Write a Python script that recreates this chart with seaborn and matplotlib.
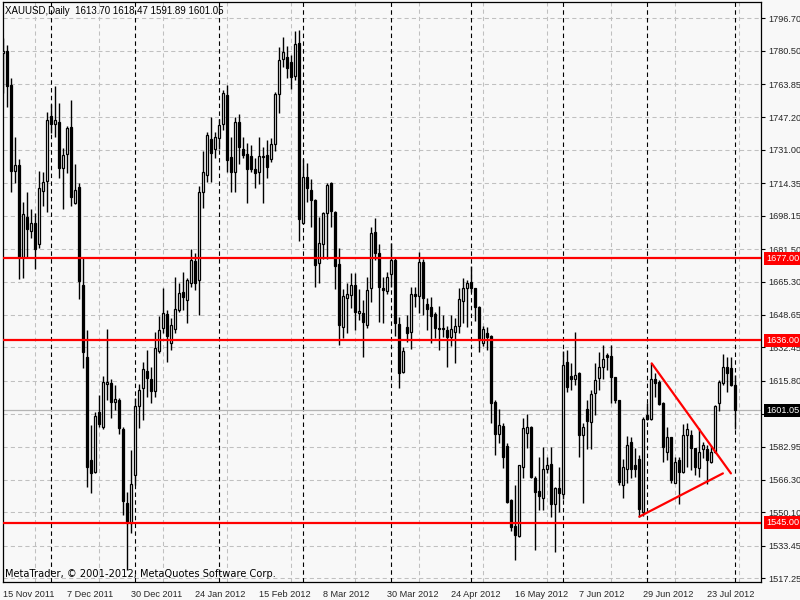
import numpy as np
import pandas as pd
import matplotlib
matplotlib.use("Agg")
import matplotlib.pyplot as plt
import matplotlib.transforms as mtransforms
import seaborn as sns

# Chart texts
title_text = "XAUUSD,Daily  1613.70 1618.47 1591.89 1601.05"
copyright_text = "MetaTrader, \u00a9 2001-2012, MetaQuotes Software Corp."

# Trading days of the daily bars (three holidays without a bar)
holidays = ["2011-12-26", "2012-01-02", "2012-04-06"]
dates = pd.bdate_range("2011-11-15", "2012-08-01")
dates = dates[~dates.isin(pd.to_datetime(holidays))]

# OHLC
opens = [
    1779.5, 1780.4, 1763.4, 1720.3, 1723.3, 1677.4, 1697.6, 1690.7, 1694.6, 1683.9,
    1710.7, 1715.4, 1747.8, 1744.1, 1744.8, 1721.9, 1728.8, 1742.3, 1704.4, 1712.5,
    1663.6, 1627.5, 1576.3, 1570.5, 1600.1, 1592.9, 1614.0, 1614.6, 1605.2, 1606.2,
    1591.6, 1554.7, 1545.0, 1568.8, 1603.2, 1612.1, 1620.7, 1616.7, 1610.7, 1630.8,
    1642.0, 1649.1, 1634.5, 1641.5, 1651.2, 1660.3, 1656.2, 1664.5, 1675.8, 1666.1,
    1710.2, 1718.5, 1736.5, 1731.3, 1736.8, 1743.8, 1758.3, 1727.7, 1719.9, 1744.8,
    1731.3, 1728.8, 1728.0, 1721.5, 1720.2, 1727.5, 1728.5, 1726.3, 1734.0, 1758.9,
    1776.2, 1777.2, 1775.1, 1767.9, 1784.5, 1694.4, 1717.7, 1711.0, 1706.0, 1674.4,
    1684.1, 1699.4, 1714.4, 1700.2, 1673.9, 1642.8, 1656.9, 1658.6, 1663.6, 1649.5,
    1649.5, 1643.6, 1661.9, 1690.2, 1679.4, 1662.0, 1660.8, 1669.1, 1676.1, 1644.0,
    1620.4, 1642.5, 1640.3, 1659.1, 1658.3, 1675.2, 1654.1, 1652.5, 1649.0, 1642.3,
    1642.2, 1641.1, 1637.8, 1640.3, 1643.1, 1655.8, 1662.3, 1665.3, 1661.9, 1652.8,
    1634.8, 1639.5, 1638.2, 1605.4, 1589.1, 1593.2, 1583.3, 1556.3, 1543.4, 1538.4,
    1573.0, 1589.9, 1592.6, 1567.1, 1560.8, 1557.5, 1571.6, 1574.1, 1554.3, 1562.2,
    1559.3, 1625.3, 1618.2, 1616.5, 1619.8, 1588.7, 1601.5, 1595.4, 1609.5, 1617.0,
    1622.5, 1628.6, 1628.2, 1617.5, 1606.2, 1563.8, 1571.6, 1585.4, 1573.8, 1576.6,
    1550.5, 1598.7, 1596.6, 1616.5, 1615.3, 1604.9, 1580.4, 1587.6, 1565.0, 1576.3,
    1570.4, 1588.7, 1588.7, 1582.1, 1572.1, 1581.6, 1581.6, 1575.4, 1580.4, 1604.5,
    1614.9, 1622.9, 1622.0, 1613.70,
]
highs = [
    1786.7, 1783.4, 1766.7, 1737.3, 1726.3, 1705.2, 1709.9, 1701.4, 1699.7, 1720.3,
    1719.8, 1749.8, 1753.8, 1762.9, 1754.6, 1732.0, 1743.0, 1755.9, 1723.8, 1714.4,
    1676.9, 1641.2, 1593.8, 1600.4, 1608.7, 1618.2, 1641.5, 1616.7, 1613.7, 1607.1,
    1592.9, 1560.5, 1581.3, 1607.1, 1614.1, 1625.4, 1631.2, 1622.9, 1640.0, 1648.0,
    1662.0, 1651.2, 1647.0, 1667.8, 1664.5, 1670.3, 1667.0, 1681.4, 1679.4, 1713.0,
    1730.5, 1739.8, 1747.3, 1739.8, 1746.5, 1760.9, 1763.4, 1737.6, 1747.6, 1748.8,
    1737.6, 1734.3, 1733.5, 1726.8, 1737.3, 1732.6, 1736.0, 1736.8, 1760.1, 1782.2,
    1787.2, 1782.9, 1778.4, 1790.5, 1790.9, 1726.3, 1724.3, 1716.4, 1706.5, 1697.7,
    1699.9, 1714.7, 1714.9, 1700.5, 1681.9, 1661.5, 1664.4, 1669.5, 1669.5, 1661.4,
    1656.1, 1667.8, 1692.7, 1696.9, 1684.1, 1667.8, 1670.2, 1684.7, 1677.0, 1647.5,
    1632.8, 1648.6, 1662.4, 1662.4, 1680.2, 1676.5, 1657.3, 1657.4, 1650.0, 1653.3,
    1648.6, 1643.1, 1648.6, 1647.0, 1661.9, 1666.9, 1666.1, 1673.1, 1662.0, 1653.0,
    1643.1, 1642.8, 1638.6, 1606.2, 1601.6, 1594.6, 1584.6, 1557.0, 1563.8, 1574.0,
    1597.1, 1599.2, 1593.0, 1568.3, 1577.9, 1582.6, 1578.0, 1582.6, 1563.0, 1573.0,
    1630.8, 1631.1, 1624.8, 1640.3, 1620.0, 1594.6, 1606.2, 1611.2, 1624.8, 1630.3,
    1633.6, 1629.5, 1633.6, 1617.6, 1606.3, 1576.6, 1588.2, 1587.6, 1582.1, 1578.8,
    1597.9, 1604.9, 1624.8, 1619.5, 1616.0, 1605.0, 1592.6, 1588.0, 1577.9, 1577.9,
    1594.2, 1594.9, 1591.2, 1582.5, 1592.1, 1585.4, 1583.8, 1583.3, 1603.7, 1616.2,
    1629.1, 1627.5, 1627.5, 1618.47,
]
lows = [
    1759.6, 1752.6, 1710.2, 1714.4, 1666.5, 1667.3, 1677.4, 1686.9, 1671.5, 1682.3,
    1703.2, 1700.2, 1739.3, 1737.6, 1717.2, 1701.7, 1719.7, 1703.2, 1704.0, 1656.8,
    1622.0, 1563.0, 1559.7, 1570.0, 1592.9, 1591.6, 1606.0, 1597.1, 1601.3, 1589.1,
    1548.9, 1521.5, 1540.0, 1563.8, 1592.4, 1596.3, 1607.6, 1604.6, 1607.9, 1629.8,
    1639.5, 1625.4, 1631.2, 1639.5, 1650.0, 1651.2, 1644.5, 1662.8, 1661.1, 1648.7,
    1702.2, 1715.2, 1715.2, 1726.8, 1731.3, 1740.9, 1720.2, 1710.2, 1709.9, 1723.8,
    1726.8, 1704.4, 1720.2, 1711.9, 1713.9, 1704.7, 1716.8, 1725.0, 1730.7, 1749.3,
    1772.2, 1766.7, 1761.3, 1765.9, 1685.8, 1694.1, 1705.2, 1692.7, 1662.5, 1664.5,
    1676.4, 1676.4, 1692.7, 1661.5, 1633.6, 1637.0, 1639.5, 1652.0, 1641.1, 1646.1,
    1627.8, 1642.0, 1655.3, 1676.1, 1645.3, 1644.8, 1659.0, 1662.4, 1638.2, 1612.0,
    1619.9, 1635.3, 1631.5, 1652.5, 1649.5, 1648.6, 1641.1, 1634.5, 1637.0, 1631.2,
    1637.8, 1622.9, 1633.2, 1624.9, 1639.5, 1644.8, 1642.8, 1660.0, 1645.8, 1630.3,
    1633.2, 1631.2, 1594.9, 1578.8, 1584.6, 1572.1, 1554.7, 1541.0, 1526.4, 1537.8,
    1567.1, 1582.1, 1567.1, 1531.5, 1551.3, 1551.3, 1570.0, 1548.0, 1530.6, 1550.5,
    1557.0, 1610.4, 1611.2, 1613.7, 1577.9, 1555.0, 1581.6, 1581.6, 1598.7, 1611.2,
    1616.5, 1621.2, 1604.9, 1604.5, 1563.8, 1557.1, 1564.6, 1567.1, 1568.0, 1548.0,
    1548.5, 1596.2, 1596.2, 1607.9, 1603.7, 1575.4, 1576.3, 1564.6, 1564.6, 1554.3,
    1569.6, 1572.9, 1571.3, 1568.8, 1567.6, 1577.1, 1564.3, 1574.6, 1579.9, 1600.9,
    1613.7, 1610.4, 1613.2, 1591.89,
]
closes = [
    1780.5, 1763.1, 1720.7, 1723.3, 1677.4, 1699.0, 1691.7, 1694.6, 1681.8, 1711.9,
    1714.9, 1746.0, 1744.1, 1745.8, 1722.2, 1728.5, 1742.0, 1707.7, 1710.9, 1665.8,
    1630.4, 1573.0, 1569.7, 1598.3, 1594.1, 1615.0, 1615.0, 1605.4, 1606.6, 1592.4,
    1556.0, 1545.0, 1564.2, 1603.4, 1611.2, 1621.7, 1617.0, 1610.7, 1632.0, 1641.2,
    1649.5, 1638.3, 1643.7, 1651.5, 1659.5, 1657.8, 1666.1, 1676.1, 1664.5, 1710.2,
    1719.9, 1738.5, 1729.3, 1737.3, 1743.3, 1759.3, 1726.0, 1719.9, 1744.8, 1732.6,
    1728.5, 1721.4, 1721.5, 1719.7, 1728.0, 1728.2, 1722.7, 1734.0, 1758.9, 1775.9,
    1780.0, 1771.7, 1767.3, 1783.9, 1696.4, 1717.7, 1711.9, 1706.0, 1673.6, 1684.4,
    1699.4, 1713.5, 1700.7, 1673.3, 1643.6, 1658.1, 1659.1, 1663.6, 1650.3, 1650.5,
    1645.3, 1661.1, 1689.4, 1679.4, 1662.8, 1661.2, 1667.4, 1676.1, 1644.8, 1619.9,
    1630.7, 1639.5, 1658.9, 1658.1, 1675.2, 1657.3, 1651.5, 1648.3, 1642.0, 1641.5,
    1641.8, 1637.8, 1641.5, 1643.1, 1656.4, 1661.9, 1664.8, 1661.9, 1652.8, 1636.2,
    1641.5, 1637.8, 1604.6, 1589.1, 1593.7, 1577.9, 1555.5, 1543.0, 1538.9, 1573.8,
    1592.1, 1592.6, 1567.6, 1560.5, 1558.3, 1571.6, 1573.8, 1554.3, 1562.2, 1559.7,
    1623.7, 1612.9, 1616.5, 1618.7, 1588.7, 1592.5, 1595.9, 1609.2, 1616.2, 1622.5,
    1626.5, 1627.5, 1617.5, 1606.2, 1565.5, 1572.9, 1583.8, 1571.6, 1571.6, 1551.6,
    1596.6, 1596.6, 1616.5, 1614.5, 1604.2, 1582.9, 1587.6, 1566.3, 1575.4, 1570.4,
    1588.7, 1591.6, 1582.1, 1572.6, 1580.4, 1583.6, 1576.3, 1580.4, 1603.2, 1615.3,
    1622.5, 1619.5, 1613.7, 1601.05,
]

# Horizontal levels, last price and price scale
levels = [1677.00, 1636.00, 1545.00]
last_price = 1601.05
price_ticks = [1517.25, 1533.45, 1550.10, 1566.30, 1582.95, 1599.15, 1615.80,
               1632.45, 1648.65, 1665.30, 1681.50, 1698.15, 1714.35, 1731.00,
               1747.20, 1763.85, 1780.50, 1796.70]

# Triangle trend lines (bar index, price)
upper_x = [162.1, 181.9]
upper_y = [1624.5, 1569.6]
lower_x = [159.0, 179.9]
lower_y = [1548.0, 1569.6]

df = pd.DataFrame({"date": dates, "open": opens, "high": highs,
                   "low": lows, "close": closes})
df["bar"] = np.arange(len(df))
df["up"] = df["close"] >= df["open"]
df["body_low"] = df[["open", "close"]].min(axis=1)
df["body_h"] = (df["close"] - df["open"]).abs()

bg = "#f8f8f8"
grid_c = "#c0c0c0"

sns.set_style("white")
plt.rcParams["font.family"] = ["Liberation Sans", "DejaVu Sans"]

fig = plt.figure(figsize=(8, 6), dpi=100, facecolor=bg)
ax = fig.add_axes([2.7 / 800, 1 - 582.3 / 600, 758.0 / 800, 580.3 / 600])
ax.set_facecolor(bg)

# grid: every 8 bars and every price tick
ax.set_xticks(np.arange(0, 190, 8), minor=True)
ax.grid(which="minor", axis="x", color=grid_c, lw=0.75, ls=(0, (4, 3)), zorder=0)
ax.set_yticks(price_ticks)
ax.grid(which="major", axis="y", color=grid_c, lw=0.75, ls=(0, (4, 3)), zorder=0)

# month separators
month_start = df.index[df["date"].dt.month != df["date"].dt.month.shift()][1:]
for b in month_start:
    ax.axvline(b, color="black", lw=0.8, ls=(0, (4, 3)), zorder=1)

# last price line
ax.axhline(last_price, color="#b4b4b4", lw=0.9, zorder=1)

# candles
ax.vlines(df["bar"], df["low"], df["high"], color="black", lw=1.0, zorder=2)
up = df[df["up"]]
dn = df[~df["up"]]
ax.bar(up["bar"], up["body_h"], bottom=up["body_low"], width=0.5,
       color=bg, edgecolor="black", lw=0.9, zorder=3)
ax.bar(dn["bar"], dn["body_h"], bottom=dn["body_low"], width=0.5,
       color="black", edgecolor="black", lw=0.9, zorder=3)

# horizontal levels and triangle
for lv in levels:
    ax.axhline(lv, color="red", lw=1.6, zorder=4)
sns.lineplot(x=upper_x, y=upper_y, color="red", lw=1.6, ax=ax, zorder=4)
sns.lineplot(x=lower_x, y=lower_y, color="red", lw=1.6, ax=ax, zorder=4)

ax.set_xlim(-0.15, 189.35)
ax.set_ylim(1515.25, 1804.83)

# x axis: date labels every 16 bars, left aligned after the tick
tick_bars = df["bar"][::16]
tick_labels = [f"{d.day} {d:%b %Y}" for d in df["date"][::16]]
ax.set_xticks(tick_bars)
ax.set_xticklabels(tick_labels)
shift = mtransforms.ScaledTranslation(1.5 / 72, 0, fig.dpi_scale_trans)
for lbl in ax.get_xticklabels():
    lbl.set_ha("left")
    lbl.set_transform(lbl.get_transform() + shift)
ax.tick_params(axis="x", which="major", direction="out", length=4, width=0.8,
               pad=1.2, labelsize=6.6, color="black")
ax.tick_params(axis="x", which="minor", length=0)

# y axis on the right; the tick under the last-price box stays unlabeled
ax.yaxis.tick_right()
ax.set_yticklabels(["" if abs(v - last_price) < 4 else f"{v:.2f}"
                    for v in price_ticks])
ax.tick_params(axis="y", direction="out", length=3, width=0.8, pad=2.5,
               labelsize=6.6, color="black")
ax.set_xlabel("")
ax.set_ylabel("")

for s in ax.spines.values():
    s.set_visible(True)
    s.set_color("black")
    s.set_linewidth(0.9)

# price boxes on the scale
tr = mtransforms.blended_transform_factory(ax.transAxes, ax.transData)
for lv in levels:
    ax.text(1.0075, lv, f"{lv:.2f}", transform=tr, ha="left", va="center",
            fontsize=6.6, color="white", clip_on=False, zorder=6,
            bbox=dict(boxstyle="square,pad=0.22", fc="red", ec="none"))
ax.text(1.0075, last_price, f"{last_price:.2f}", transform=tr, ha="left",
        va="center", fontsize=6.6, color="white", clip_on=False, zorder=6,
        bbox=dict(boxstyle="square,pad=0.22", fc="black", ec="none"))

# chart texts
ax.text(0.003, 0.9845, title_text, transform=ax.transAxes, ha="left",
        va="center", fontsize=7, color="black", zorder=6)
ax.text(0.003, 0.0145, copyright_text, transform=ax.transAxes, ha="left",
        va="center", fontsize=7.1, color="black", family="DejaVu Sans", zorder=6)

fig.savefig("out.png", dpi=100, facecolor=bg)
